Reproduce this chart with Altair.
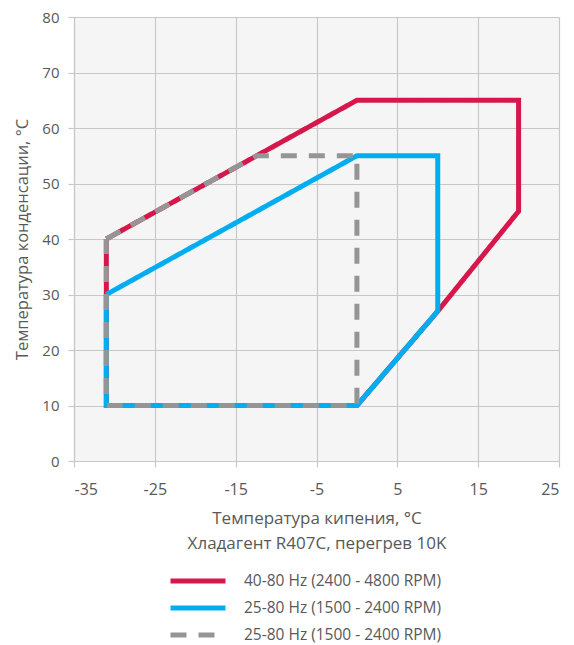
import altair as alt
import pandas as pd

# ---- data ----
series_keys = ["s1", "s2", "s3"]
series_labels = ["40-80 Hz (2400 - 4800 RPM)",
                 "25-80 Hz (1500 - 2400 RPM)",
                 "25-80 Hz (1500 - 2400 RPM)"]
series_colors = ["#D6174B", "#00AEEF", "#959595"]
series_dash = [[1, 0], [1, 0], [16, 12]]

red_x = [-31, 0, 20, 20, 10, 0, -31, -31]
red_y = [40, 65, 65, 45, 27, 10, 10, 40]
blue_x = [-31, 0, 10, 10, 0, -31, -31]
blue_y = [30, 55, 55, 27, 10, 10, 30]
gray_x = [-31, -12.4, 0, 0, -31, -31]
gray_y = [40, 55, 55, 10, 10, 40]

x_ticks = [-35, -25, -15, -5, 5, 15, 25]
y_ticks = [0, 10, 20, 30, 40, 50, 60, 70, 80]

x_title = ["Температура кипения, °C", "Хладагент R407C, перегрев 10K"]
y_title = "Температура конденсации, °C"

rows = []
for key, xs, ys in zip(series_keys, [red_x, blue_x, gray_x], [red_y, blue_y, gray_y]):
    for i, (xv, yv) in enumerate(zip(xs, ys)):
        rows.append({"series": key, "x": xv, "y": yv, "order": i})
df = pd.DataFrame(rows)

label_expr = " : ".join(
    f"datum.value == '{k}' ? '{l}'" for k, l in zip(series_keys, series_labels)
) + " : ''"

FONT = "Open Sans"
TXT = "#595959"


def make_legend():
    return alt.Legend(title=None, orient="none", legendX=116, legendY=556,
                      labelExpr=label_expr, symbolType="M-5,0H5",
                      symbolSize=121, symbolStrokeWidth=5,
                      labelFontSize=15.5, labelColor=TXT, labelFont=FONT,
                      labelOffset=38, labelLimit=400, rowPadding=7)


chart = alt.Chart(df).mark_line(strokeWidth=5, strokeJoin="miter", strokeCap="butt").encode(
    x=alt.X("x:Q",
            scale=alt.Scale(domain=[-35, 25], nice=False, zero=False),
            axis=alt.Axis(values=x_ticks, title=x_title, titleLineHeight=25,
                          labelExpr="'' + datum.value",
                          tickSize=6, labelPadding=14, titlePadding=13)),
    y=alt.Y("y:Q",
            scale=alt.Scale(domain=[0, 80], nice=False),
            axis=alt.Axis(values=y_ticks, title=y_title, labelFontSize=15,
                          titleFontSize=16.5,
                          tickSize=6, labelPadding=9, titlePadding=11)),
    color=alt.Color("series:N",
                    scale=alt.Scale(domain=series_keys, range=series_colors),
                    legend=make_legend()),
    strokeDash=alt.StrokeDash("series:N",
                              scale=alt.Scale(domain=series_keys, range=series_dash),
                              legend=make_legend()),
    order="order:Q",
).properties(
    width=485, height=444,
    autosize=alt.AutoSizeParams(type="none"),
    padding={"left": 66, "top": 9, "right": 7, "bottom": 184},
).configure_view(
    fill="#F5F5F5", stroke=None
).configure_axis(
    grid=True, gridColor="#C8C8C8", gridWidth=1.2,
    domainColor="#C8C8C8", tickColor="#C8C8C8", domainWidth=1.2, tickWidth=1.2,
    labelFont=FONT, labelFontSize=16, labelColor=TXT,
    titleFont=FONT, titleFontSize=17, titleColor=TXT, titleFontWeight="normal",
)

chart.save("out.html", embed_options={"renderer": "svg", "actions": False})
